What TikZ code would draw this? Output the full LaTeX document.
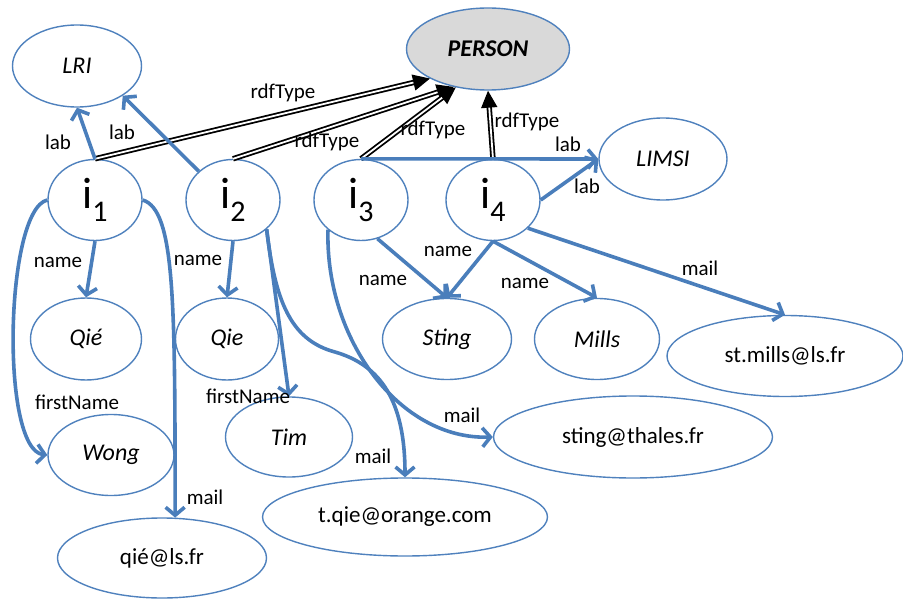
\documentclass[tikz,border=0pt]{standalone}
\usepackage{fontspec}
\setmainfont{Carlito}
\usetikzlibrary{arrows.meta,shapes.geometric}
\definecolor{ovalblue}{HTML}{4F81BD}
\definecolor{linkblue}{HTML}{4A7EBB}
\tikzset{
	oval/.style={ellipse, draw=ovalblue, line width=1.4pt, inner sep=0pt, font=\fontsize{23}{26}\selectfont},
	valnode/.style={oval, font=\fontsize{24}{26}\selectfont\itshape},
	indiv/.style={oval, minimum width=94pt, minimum height=81pt, font=\fontsize{44}{46}\selectfont},
	edgeblue/.style={draw=linkblue, line width=3.6pt, -{Straight Barb[length=8pt,width=19pt]}},
	edgetype/.style={draw=black, double=white, double distance=1.8pt, line width=1.8pt, -{Triangle[length=17pt,width=16pt]}},
	edgetext/.style={font=\fontsize{21}{23}\selectfont, inner sep=0pt},
}
\newcommand{\indname}[1]{i\raisebox{-0.28em}{\fontsize{30}{32}\selectfont #1}}

\begin{document}
\begin{tikzpicture}[x=1pt, y=-1pt]
		%%%%% START %%%%%
		\useasboundingbox (0,0) rectangle (903,599);
		
		\node[valnode, fill=black!15, minimum width=163pt, minimum height=82pt, font=\fontsize{24}{26}\selectfont\bfseries\itshape] (person) at (488,49) {PERSON};
		\node[valnode, minimum width=129pt, minimum height=82pt] (lri) at (77,66) {LRI};
		\node[valnode, minimum width=128pt, minimum height=82pt] (limsi) at (663,159) {LIMSI};
		
		\node[indiv] (i1) at (95,200) {\indname{1}};
		\node[indiv] (i2) at (233,200) {\indname{2}};
		\node[indiv] (i3) at (361,200) {\indname{3}};
		\node[indiv] (i4) at (493,200) {\indname{4}};
		
		\node[valnode, minimum width=111pt, minimum height=82pt] (qie1) at (86,339) {Qié};
		\node[valnode, minimum width=103pt, minimum height=82pt] (qie2) at (227,339) {Qie};
		\node[valnode, minimum width=126pt, minimum height=81pt] (wong) at (111,455) {Wong};
		\node[valnode, minimum width=127pt, minimum height=80pt] (tim) at (289,437) {Tim};
		\node[valnode, minimum width=129pt, minimum height=81pt] (sting) at (447,339) {Sting};
		\node[valnode, minimum width=125pt, minimum height=81pt] (mills) at (597,339) {Mills};
		
		\node[oval, minimum width=209pt, minimum height=80pt] (mail1) at (162,558) {qié@ls.fr};
		\node[oval, minimum width=285pt, minimum height=78pt] (mail2) at (405,517) {t.qie@orange.com};
		\node[oval, minimum width=279pt, minimum height=82pt] (mail3) at (633,437) {sting@thales.fr};
		\node[oval, minimum width=236pt, minimum height=81pt] (mail4) at (785,356) {st.mills@ls.fr};
		
		% rdfType
		\draw[edgetype] (i1.north) -- (person.-153);
		\draw[edgetype] (i2.north) -- (person.-132);
		\draw[edgetype] (i3.north) -- (person.-130);
		\draw[edgetype] (i4.north) -- (person.south);
		
		% lab
		\draw[edgeblue] (i1.north) -- (lri.south);
		\draw[edgeblue] (i2.140) -- (lri.-33);
		\draw[edgeblue] (i3.north) -- (limsi.west);
		\draw[edgeblue] (i4.east) -- (limsi.west);
		
		% name
		\draw[edgeblue] (i1.south) -- (qie1.north);
		\draw[edgeblue] (i2.south) -- (qie2.north);
		\draw[edgeblue] (i3.-67) -- (sting.north);
		\draw[edgeblue] (i4.south) -- (sting.north);
		\draw[edgeblue] (i4.south) -- (mills.north);
		
		% firstName
		\draw[edgeblue] (i1.west) .. controls (5,210) and (0,450) .. (wong.west);
		\draw[edgeblue] (i2.-41) -- (tim.north);
		
		% mail
		\draw[edgeblue] (i1.east) .. controls (175,210) and (175,300) .. (mail1.72);
		\draw[edgeblue] (i2.-41) .. controls (275,300) and (290,340) .. (335,352) .. controls (380,365) and (405,400) .. (mail2.north);
		\draw[edgeblue] (i3.-138) .. controls (325,340) and (400,440) .. (mail3.west);
		\draw[edgeblue] (i4.-39) -- (mail4.north);
		
		\node[edgetext] (tlab1) at (58,142) {lab};
		\node[edgetext] (tlab2) at (122,132) {lab};
		\node[edgetext] (tlab3) at (568,144) {lab};
		\node[edgetext] (tlab4) at (587,186) {lab};
		\node[edgetext] (ttype1) at (283,93) {rdfType};
		\node[edgetext] (ttype2) at (327,142) {rdfType};
		\node[edgetext] (ttype3) at (433,130) {rdfType};
		\node[edgetext] (ttype4) at (527,122) {rdfType};
		\node[edgetext] (tname1) at (58,262) {name};
		\node[edgetext] (tname2) at (198,260) {name};
		\node[edgetext] (tname3) at (383,280) {name};
		\node[edgetext] (tname4) at (448,251) {name};
		\node[edgetext] (tname5) at (525,283) {name};
		\node[edgetext] (tfirst1) at (77,402) {firstName};
		\node[edgetext] (tfirst2) at (248,396) {firstName};
		\node[edgetext] (tmail1) at (205,497) {mail};
		\node[edgetext] (tmail2) at (373,456) {mail};
		\node[edgetext] (tmail3) at (462,415) {mail};
		\node[edgetext] (tmail4) at (700,268) {mail};
		
		%%%%% END %%%%%
	\end{tikzpicture}
\end{document}
